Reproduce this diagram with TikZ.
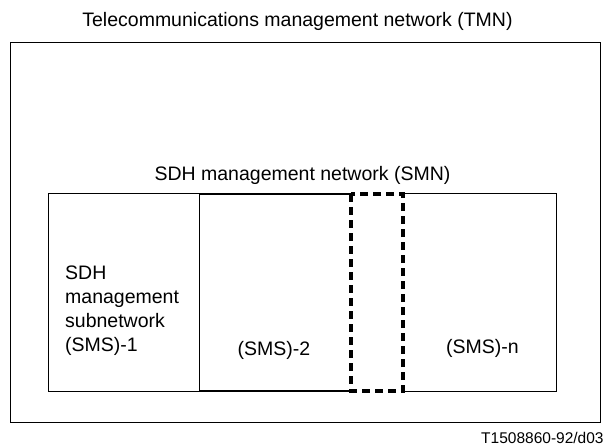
\documentclass[tikz,border=0pt]{standalone}
\usepackage{fontspec}
\setmainfont{Liberation Sans}
\begin{document}
\begin{tikzpicture}[x=1pt,y=-1pt,
  frame/.style={draw=black,line width=1pt},
  heavy/.style={draw=black,line width=2pt},
  gapbox/.style={draw=black,line width=3.5pt,dash pattern=on 8pt off 5pt},
  label/.style={inner sep=0pt,font=\fontsize{19.5}{24}\selectfont},
  tag/.style={inner sep=0pt,font=\fontsize{15.5}{18}\selectfont}]
\useasboundingbox (0,0) rectangle (604,446);

% Telecommunications management network
\node[label,anchor=base] (tmnlabel) at (297.5,26.7) {Telecommunications management network (TMN)};
\coordinate (tmnA) at (10,43);
\coordinate (tmnB) at (600,422);
\draw[frame] (tmnA) rectangle (tmnB);

% SDH management network
\node[label,anchor=base] (smnlabel) at (302.5,181) {SDH management network (SMN)};

% Subnetwork 1 (text block: base anchor sits on its last line)
\coordinate (s1A) at (48,194);
\coordinate (s1B) at (199,391);
\draw[frame] (s1A) rectangle (s1B);
\node[label,anchor=base west,align=left] (s1text) at (65,351)
  {SDH\\management\\subnetwork\\(SMS)-1};

% Subnetwork 2 (top and bottom edges)
\coordinate (s2tl) at (199,194);
\coordinate (s2tr) at (351,194);
\coordinate (s2bl) at (199,391);
\coordinate (s2br) at (351,391);
\draw[heavy] (s2tl) -- (s2tr);
\draw[heavy] (s2bl) -- (s2br);
\node[label,anchor=base] (s2text) at (274,355) {(SMS)-2};

% Intermediate subnetworks
\coordinate (gA) at (351,194);
\coordinate (gB) at (403,391);
\draw[gapbox] (gA) rectangle (gB);

% Subnetwork n
\coordinate (snA) at (403,194);
\coordinate (snB) at (556,391);
\draw[frame] (snA) -- (snB |- snA) -- (snB) -- (snA |- snB);
\node[label,anchor=base] (sntext) at (482.5,353) {(SMS)-n};

% Figure reference
\node[tag,anchor=base west] (figref) at (481,443) {T1508860-92/d03};
\end{tikzpicture}
\end{document}
